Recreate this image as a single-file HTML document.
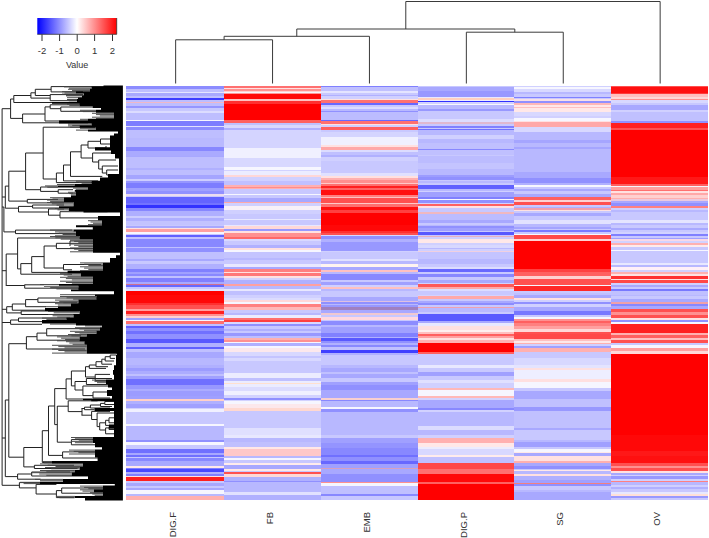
<!DOCTYPE html>
<html><head><meta charset="utf-8"><style>
html,body{margin:0;padding:0;background:#fff;}
svg{display:block;font-family:"Liberation Sans",sans-serif;}
</style></head><body>
<svg width="709" height="538" viewBox="0 0 709 538">
<rect width="709" height="538" fill="#fff"/>
<defs><linearGradient id="g" x1="0" x2="1" y1="0" y2="0"><stop offset="0" stop-color="#0000ff"/><stop offset="0.5" stop-color="#ffffff"/><stop offset="1" stop-color="#ff0000"/></linearGradient></defs>
<rect x="37.3" y="18" width="79.4" height="16.3" fill="url(#g)"/>
<path d="M37.3 34.3H116.7M116.7 18V34.3" stroke="#333" stroke-width="0.8" fill="none"/>
<path d="M42.0 34.3V41" stroke="#333" stroke-width="1"/>
<text x="42.0" y="54" text-anchor="middle" font-size="9.5" fill="#333">-2</text>
<path d="M59.6 34.3V41" stroke="#333" stroke-width="1"/>
<text x="59.6" y="54" text-anchor="middle" font-size="9.5" fill="#333">-1</text>
<path d="M77.2 34.3V41" stroke="#333" stroke-width="1"/>
<text x="77.2" y="54" text-anchor="middle" font-size="9.5" fill="#333">0</text>
<path d="M94.6 34.3V41" stroke="#333" stroke-width="1"/>
<text x="94.6" y="54" text-anchor="middle" font-size="9.5" fill="#333">1</text>
<path d="M112.5 34.3V41" stroke="#333" stroke-width="1"/>
<text x="112.5" y="54" text-anchor="middle" font-size="9.5" fill="#333">2</text>
<text x="77.2" y="67.5" text-anchor="middle" font-size="9" fill="#333">Value</text>
<g shape-rendering="crispEdges">
<rect x="126.40" y="85.60" width="97.50" height="3.00" fill="#8c8cff"/>
<rect x="126.40" y="88.60" width="97.50" height="3.30" fill="#bebeff"/>
<rect x="126.40" y="91.90" width="97.50" height="1.30" fill="#e4e4ff"/>
<rect x="126.40" y="93.20" width="97.50" height="2.60" fill="#a8a8ff"/>
<rect x="126.40" y="95.80" width="97.50" height="1.90" fill="#bebeff"/>
<rect x="126.40" y="97.70" width="97.50" height="2.60" fill="#3c3cff"/>
<rect x="126.40" y="100.30" width="97.50" height="1.30" fill="#bebeff"/>
<rect x="126.40" y="101.60" width="97.50" height="1.60" fill="#f0b8c8"/>
<rect x="126.40" y="103.20" width="97.50" height="2.30" fill="#bebeff"/>
<rect x="126.40" y="105.50" width="97.50" height="2.00" fill="#9696ff"/>
<rect x="126.40" y="107.50" width="97.50" height="3.90" fill="#c8c8ff"/>
<rect x="126.40" y="111.40" width="97.50" height="1.90" fill="#dcdcff"/>
<rect x="126.40" y="113.30" width="97.50" height="6.30" fill="#bebeff"/>
<rect x="126.40" y="119.60" width="97.50" height="1.40" fill="#f6f6ff"/>
<rect x="126.40" y="121.00" width="97.50" height="5.30" fill="#7d7dff"/>
<rect x="126.40" y="126.30" width="97.50" height="1.10" fill="#e1e1ff"/>
<rect x="126.40" y="127.40" width="97.50" height="2.20" fill="#8c8cff"/>
<rect x="126.40" y="129.60" width="97.50" height="8.40" fill="#bebeff"/>
<rect x="126.40" y="138.00" width="97.50" height="9.00" fill="#b9b9ff"/>
<rect x="126.40" y="147.00" width="97.50" height="4.00" fill="#8787ff"/>
<rect x="126.40" y="151.00" width="97.50" height="5.00" fill="#aaaaff"/>
<rect x="126.40" y="156.00" width="97.50" height="1.30" fill="#a8a8ff"/>
<rect x="126.40" y="157.30" width="97.50" height="10.40" fill="#bebeff"/>
<rect x="126.40" y="167.70" width="97.50" height="2.60" fill="#b0b0ff"/>
<rect x="126.40" y="170.30" width="97.50" height="4.70" fill="#bebeff"/>
<rect x="126.40" y="175.00" width="97.50" height="4.40" fill="#a5a5ff"/>
<rect x="126.40" y="179.40" width="97.50" height="2.00" fill="#cdcdff"/>
<rect x="126.40" y="181.40" width="97.50" height="1.90" fill="#9696ff"/>
<rect x="126.40" y="183.30" width="97.50" height="4.60" fill="#7d7dff"/>
<rect x="126.40" y="187.90" width="97.50" height="2.60" fill="#a0a0ff"/>
<rect x="126.40" y="190.50" width="97.50" height="3.20" fill="#9191ff"/>
<rect x="126.40" y="193.70" width="97.50" height="2.00" fill="#ecdcf0"/>
<rect x="126.40" y="195.70" width="97.50" height="1.30" fill="#c8c8ff"/>
<rect x="126.40" y="197.00" width="97.50" height="5.80" fill="#6464ff"/>
<rect x="126.40" y="202.80" width="97.50" height="2.60" fill="#7373ff"/>
<rect x="126.40" y="205.40" width="97.50" height="2.60" fill="#3232ff"/>
<rect x="126.40" y="208.00" width="97.50" height="2.60" fill="#8787ff"/>
<rect x="126.40" y="210.60" width="97.50" height="5.20" fill="#afafff"/>
<rect x="126.40" y="215.80" width="97.50" height="2.00" fill="#cdcdff"/>
<rect x="126.40" y="217.80" width="97.50" height="3.20" fill="#afafff"/>
<rect x="126.40" y="221.00" width="97.50" height="4.00" fill="#c3c3ff"/>
<rect x="126.40" y="225.00" width="97.50" height="1.30" fill="#c8c8ff"/>
<rect x="126.40" y="226.30" width="97.50" height="1.30" fill="#a8a8ff"/>
<rect x="126.40" y="227.60" width="97.50" height="1.30" fill="#ffe1e1"/>
<rect x="126.40" y="228.90" width="97.50" height="3.30" fill="#ffa0a0"/>
<rect x="126.40" y="232.20" width="97.50" height="1.30" fill="#f6f6ff"/>
<rect x="126.40" y="233.50" width="97.50" height="1.90" fill="#c8c8ff"/>
<rect x="126.40" y="235.40" width="97.50" height="2.00" fill="#6060ff"/>
<rect x="126.40" y="237.40" width="97.50" height="1.90" fill="#c0c0ff"/>
<rect x="126.40" y="239.30" width="97.50" height="7.20" fill="#8888ff"/>
<rect x="126.40" y="246.50" width="97.50" height="1.30" fill="#c0c0ff"/>
<rect x="126.40" y="247.80" width="97.50" height="4.50" fill="#9090ff"/>
<rect x="126.40" y="252.30" width="97.50" height="6.50" fill="#c0c0ff"/>
<rect x="126.40" y="258.80" width="97.50" height="2.00" fill="#a8a8ff"/>
<rect x="126.40" y="260.80" width="97.50" height="3.20" fill="#c8c8ff"/>
<rect x="126.40" y="264.00" width="97.50" height="5.20" fill="#b0b0ff"/>
<rect x="126.40" y="269.20" width="97.50" height="2.60" fill="#8080ff"/>
<rect x="126.40" y="271.80" width="97.50" height="2.60" fill="#a0a0ff"/>
<rect x="126.40" y="274.40" width="97.50" height="2.00" fill="#8888ff"/>
<rect x="126.40" y="276.40" width="97.50" height="1.90" fill="#c0c0ff"/>
<rect x="126.40" y="278.30" width="97.50" height="3.90" fill="#8080ff"/>
<rect x="126.40" y="282.20" width="97.50" height="1.30" fill="#a8a8ff"/>
<rect x="126.40" y="283.50" width="97.50" height="1.30" fill="#d07090"/>
<rect x="126.40" y="284.80" width="97.50" height="2.00" fill="#6868ff"/>
<rect x="126.40" y="286.80" width="97.50" height="2.60" fill="#c8c8ff"/>
<rect x="126.40" y="289.40" width="97.50" height="2.00" fill="#e1e1ff"/>
<rect x="126.40" y="291.40" width="97.50" height="3.60" fill="#ff0000"/>
<rect x="126.40" y="295.00" width="97.50" height="7.80" fill="#ff0808"/>
<rect x="126.40" y="302.80" width="97.50" height="2.60" fill="#ff3030"/>
<rect x="126.40" y="305.40" width="97.50" height="3.90" fill="#ff5050"/>
<rect x="126.40" y="309.30" width="97.50" height="2.00" fill="#ffa0a0"/>
<rect x="126.40" y="311.30" width="97.50" height="2.60" fill="#ff2020"/>
<rect x="126.40" y="313.90" width="97.50" height="1.90" fill="#ff9090"/>
<rect x="126.40" y="315.80" width="97.50" height="2.00" fill="#ffd0d0"/>
<rect x="126.40" y="317.80" width="97.50" height="1.90" fill="#a0a0ff"/>
<rect x="126.40" y="319.70" width="97.50" height="1.30" fill="#f6f6ff"/>
<rect x="126.40" y="321.00" width="97.50" height="3.30" fill="#ff7070"/>
<rect x="126.40" y="324.30" width="97.50" height="1.90" fill="#c0c0ff"/>
<rect x="126.40" y="326.20" width="97.50" height="2.00" fill="#6060ff"/>
<rect x="126.40" y="328.20" width="97.50" height="3.20" fill="#9090ff"/>
<rect x="126.40" y="331.40" width="97.50" height="2.60" fill="#7070ff"/>
<rect x="126.40" y="334.00" width="97.50" height="5.20" fill="#9090ff"/>
<rect x="126.40" y="339.20" width="97.50" height="3.30" fill="#5858ff"/>
<rect x="126.40" y="342.50" width="97.50" height="4.50" fill="#b0b0ff"/>
<rect x="126.40" y="347.00" width="97.50" height="2.00" fill="#6060ff"/>
<rect x="126.40" y="349.00" width="97.50" height="3.20" fill="#c0c0ff"/>
<rect x="126.40" y="352.20" width="97.50" height="5.30" fill="#a8a8ff"/>
<rect x="126.40" y="357.50" width="97.50" height="7.50" fill="#b8b8ff"/>
<rect x="126.40" y="365.00" width="97.50" height="2.60" fill="#b0b0ff"/>
<rect x="126.40" y="367.60" width="97.50" height="3.30" fill="#9c9cff"/>
<rect x="126.40" y="370.90" width="97.50" height="3.20" fill="#acacff"/>
<rect x="126.40" y="374.10" width="97.50" height="2.00" fill="#c0c0ff"/>
<rect x="126.40" y="376.10" width="97.50" height="3.20" fill="#a0a0ff"/>
<rect x="126.40" y="379.30" width="97.50" height="5.20" fill="#7070ff"/>
<rect x="126.40" y="384.50" width="97.50" height="4.60" fill="#9898ff"/>
<rect x="126.40" y="389.10" width="97.50" height="1.90" fill="#acacff"/>
<rect x="126.40" y="391.00" width="97.50" height="5.20" fill="#9c9cff"/>
<rect x="126.40" y="396.20" width="97.50" height="2.60" fill="#a0a0ff"/>
<rect x="126.40" y="398.80" width="97.50" height="2.00" fill="#ffd0c8"/>
<rect x="126.40" y="400.80" width="97.50" height="3.20" fill="#b0b0ff"/>
<rect x="126.40" y="404.00" width="97.50" height="3.90" fill="#a0a0ff"/>
<rect x="126.40" y="407.90" width="97.50" height="1.30" fill="#d0d0ff"/>
<rect x="126.40" y="409.20" width="97.50" height="2.60" fill="#f0f0ff"/>
<rect x="126.40" y="411.80" width="97.50" height="12.40" fill="#c8c8ff"/>
<rect x="126.40" y="424.20" width="97.50" height="2.00" fill="#f6f6ff"/>
<rect x="126.40" y="426.20" width="97.50" height="8.80" fill="#b8b8ff"/>
<rect x="126.40" y="435.00" width="97.50" height="4.60" fill="#b8b8ff"/>
<rect x="126.40" y="439.60" width="97.50" height="2.60" fill="#9090ff"/>
<rect x="126.40" y="442.20" width="97.50" height="2.60" fill="#f6f6ff"/>
<rect x="126.40" y="444.80" width="97.50" height="3.90" fill="#c8c8ff"/>
<rect x="126.40" y="448.70" width="97.50" height="3.90" fill="#7070ff"/>
<rect x="126.40" y="452.60" width="97.50" height="1.90" fill="#a8a8ff"/>
<rect x="126.40" y="454.50" width="97.50" height="2.00" fill="#7070ff"/>
<rect x="126.40" y="456.50" width="97.50" height="1.30" fill="#c8c8ff"/>
<rect x="126.40" y="457.80" width="97.50" height="3.20" fill="#8888ff"/>
<rect x="126.40" y="461.00" width="97.50" height="5.20" fill="#a8a8ff"/>
<rect x="126.40" y="466.20" width="97.50" height="1.30" fill="#ffe8e8"/>
<rect x="126.40" y="467.50" width="97.50" height="1.30" fill="#8080ff"/>
<rect x="126.40" y="468.80" width="97.50" height="3.30" fill="#4848ff"/>
<rect x="126.40" y="472.10" width="97.50" height="1.90" fill="#b0b0ff"/>
<rect x="126.40" y="474.00" width="97.50" height="2.00" fill="#8080ff"/>
<rect x="126.40" y="476.00" width="97.50" height="1.30" fill="#ffe1e1"/>
<rect x="126.40" y="477.30" width="97.50" height="3.90" fill="#ff2020"/>
<rect x="126.40" y="481.20" width="97.50" height="1.90" fill="#c8c8ff"/>
<rect x="126.40" y="483.10" width="97.50" height="2.60" fill="#a8a8ff"/>
<rect x="126.40" y="485.70" width="97.50" height="2.00" fill="#c8c8ff"/>
<rect x="126.40" y="487.70" width="97.50" height="1.90" fill="#a8a8ff"/>
<rect x="126.40" y="489.60" width="97.50" height="3.90" fill="#f6f6ff"/>
<rect x="126.40" y="493.50" width="97.50" height="2.70" fill="#b8b8ff"/>
<rect x="126.40" y="496.20" width="97.50" height="4.10" fill="#ffb0b0"/>
<rect x="223.90" y="85.60" width="96.90" height="2.30" fill="#ff7070"/>
<rect x="223.90" y="87.90" width="96.90" height="1.00" fill="#ffe1e1"/>
<rect x="223.90" y="88.90" width="96.90" height="2.00" fill="#ff9191"/>
<rect x="223.90" y="90.90" width="96.90" height="1.30" fill="#ffd2d2"/>
<rect x="223.90" y="92.20" width="96.90" height="0.90" fill="#f6f6ff"/>
<rect x="223.90" y="93.10" width="96.90" height="1.00" fill="#ff9696"/>
<rect x="223.90" y="94.10" width="96.90" height="5.20" fill="#ff0808"/>
<rect x="223.90" y="99.30" width="96.90" height="1.30" fill="#ffc0c0"/>
<rect x="223.90" y="100.60" width="96.90" height="3.30" fill="#ff3030"/>
<rect x="223.90" y="103.90" width="96.90" height="16.20" fill="#ff0000"/>
<rect x="223.90" y="120.10" width="96.90" height="2.60" fill="#ff6060"/>
<rect x="223.90" y="122.70" width="96.90" height="2.60" fill="#c0c0ff"/>
<rect x="223.90" y="125.30" width="96.90" height="2.70" fill="#d8d8ff"/>
<rect x="223.90" y="128.00" width="96.90" height="1.90" fill="#b0b0ff"/>
<rect x="223.90" y="129.90" width="96.90" height="17.60" fill="#d4d4ff"/>
<rect x="223.90" y="147.50" width="96.90" height="7.50" fill="#f0f0ff"/>
<rect x="223.90" y="155.00" width="96.90" height="2.60" fill="#f0f0ff"/>
<rect x="223.90" y="157.60" width="96.90" height="9.80" fill="#d8d8ff"/>
<rect x="223.90" y="167.40" width="96.90" height="2.60" fill="#f6f6ff"/>
<rect x="223.90" y="170.00" width="96.90" height="1.30" fill="#d2d2ff"/>
<rect x="223.90" y="171.30" width="96.90" height="3.90" fill="#ececff"/>
<rect x="223.90" y="175.20" width="96.90" height="1.70" fill="#ffd7d7"/>
<rect x="223.90" y="176.90" width="96.90" height="4.10" fill="#d0d0ff"/>
<rect x="223.90" y="181.00" width="96.90" height="3.90" fill="#c0c0ff"/>
<rect x="223.90" y="184.90" width="96.90" height="1.60" fill="#ffb0b0"/>
<rect x="223.90" y="186.50" width="96.90" height="1.50" fill="#ff8c8c"/>
<rect x="223.90" y="188.00" width="96.90" height="1.10" fill="#ffb0b0"/>
<rect x="223.90" y="189.10" width="96.90" height="4.90" fill="#c8c8ff"/>
<rect x="223.90" y="194.00" width="96.90" height="1.30" fill="#f6f6ff"/>
<rect x="223.90" y="195.30" width="96.90" height="2.60" fill="#c8c8ff"/>
<rect x="223.90" y="197.90" width="96.90" height="3.90" fill="#a8a8ff"/>
<rect x="223.90" y="201.80" width="96.90" height="1.60" fill="#ffa8a8"/>
<rect x="223.90" y="203.40" width="96.90" height="2.30" fill="#d0d0ff"/>
<rect x="223.90" y="205.70" width="96.90" height="3.90" fill="#f8f0f8"/>
<rect x="223.90" y="209.60" width="96.90" height="3.90" fill="#d0d0ff"/>
<rect x="223.90" y="213.50" width="96.90" height="5.30" fill="#c8c8ff"/>
<rect x="223.90" y="218.80" width="96.90" height="1.20" fill="#e8e8ff"/>
<rect x="223.90" y="220.00" width="96.90" height="5.00" fill="#c8c8ff"/>
<rect x="223.90" y="225.00" width="96.90" height="1.30" fill="#e8e8ff"/>
<rect x="223.90" y="226.30" width="96.90" height="2.60" fill="#ffd8d8"/>
<rect x="223.90" y="228.90" width="96.90" height="2.00" fill="#9898ff"/>
<rect x="223.90" y="230.90" width="96.90" height="1.90" fill="#ffe1e1"/>
<rect x="223.90" y="232.80" width="96.90" height="3.90" fill="#ff9090"/>
<rect x="223.90" y="236.70" width="96.90" height="2.60" fill="#ff6868"/>
<rect x="223.90" y="239.30" width="96.90" height="2.00" fill="#d8d8ff"/>
<rect x="223.90" y="241.30" width="96.90" height="3.20" fill="#c8c8ff"/>
<rect x="223.90" y="244.50" width="96.90" height="3.30" fill="#b0b0ff"/>
<rect x="223.90" y="247.80" width="96.90" height="1.90" fill="#ffe0e0"/>
<rect x="223.90" y="249.70" width="96.90" height="2.60" fill="#f6f6ff"/>
<rect x="223.90" y="252.30" width="96.90" height="5.70" fill="#c4c4ff"/>
<rect x="223.90" y="258.00" width="96.90" height="2.00" fill="#b8b8ff"/>
<rect x="223.90" y="260.00" width="96.90" height="4.00" fill="#c8c8ff"/>
<rect x="223.90" y="264.00" width="96.90" height="2.60" fill="#e8e8ff"/>
<rect x="223.90" y="266.60" width="96.90" height="2.60" fill="#a8a8ff"/>
<rect x="223.90" y="269.20" width="96.90" height="2.60" fill="#ff8080"/>
<rect x="223.90" y="271.80" width="96.90" height="1.30" fill="#ffe1e1"/>
<rect x="223.90" y="273.10" width="96.90" height="2.60" fill="#ff7878"/>
<rect x="223.90" y="275.70" width="96.90" height="2.00" fill="#ffe1e1"/>
<rect x="223.90" y="277.70" width="96.90" height="1.90" fill="#d2d2ff"/>
<rect x="223.90" y="279.60" width="96.90" height="3.90" fill="#b0b0ff"/>
<rect x="223.90" y="283.50" width="96.90" height="2.60" fill="#ffa0a0"/>
<rect x="223.90" y="286.10" width="96.90" height="2.60" fill="#b8b8ff"/>
<rect x="223.90" y="288.70" width="96.90" height="2.70" fill="#e8e8ff"/>
<rect x="223.90" y="291.40" width="96.90" height="3.60" fill="#c0c0ff"/>
<rect x="223.90" y="295.00" width="96.90" height="2.60" fill="#d0d0ff"/>
<rect x="223.90" y="297.60" width="96.90" height="2.60" fill="#dcdcff"/>
<rect x="223.90" y="300.20" width="96.90" height="2.00" fill="#ffd8d8"/>
<rect x="223.90" y="302.20" width="96.90" height="1.90" fill="#f6f6ff"/>
<rect x="223.90" y="304.10" width="96.90" height="3.30" fill="#ff8080"/>
<rect x="223.90" y="307.40" width="96.90" height="2.60" fill="#ffb8b8"/>
<rect x="223.90" y="310.00" width="96.90" height="3.20" fill="#c8c8ff"/>
<rect x="223.90" y="313.20" width="96.90" height="2.00" fill="#b8b8ff"/>
<rect x="223.90" y="315.20" width="96.90" height="2.60" fill="#ececff"/>
<rect x="223.90" y="317.80" width="96.90" height="1.90" fill="#ff7070"/>
<rect x="223.90" y="319.70" width="96.90" height="2.00" fill="#ff4040"/>
<rect x="223.90" y="321.70" width="96.90" height="1.90" fill="#d8d8ff"/>
<rect x="223.90" y="323.60" width="96.90" height="2.60" fill="#9090ff"/>
<rect x="223.90" y="326.20" width="96.90" height="2.60" fill="#c8c8ff"/>
<rect x="223.90" y="328.80" width="96.90" height="2.20" fill="#b0b0ff"/>
<rect x="223.90" y="331.00" width="96.90" height="2.00" fill="#c8c8ff"/>
<rect x="223.90" y="333.00" width="96.90" height="2.50" fill="#9898ff"/>
<rect x="223.90" y="335.50" width="96.90" height="2.40" fill="#bebeff"/>
<rect x="223.90" y="337.90" width="96.90" height="2.00" fill="#ffb0b0"/>
<rect x="223.90" y="339.90" width="96.90" height="1.90" fill="#ff9090"/>
<rect x="223.90" y="341.80" width="96.90" height="1.30" fill="#f6f6ff"/>
<rect x="223.90" y="343.10" width="96.90" height="3.30" fill="#b0b0ff"/>
<rect x="223.90" y="346.40" width="96.90" height="1.30" fill="#f6f6ff"/>
<rect x="223.90" y="347.70" width="96.90" height="4.50" fill="#fce8ec"/>
<rect x="223.90" y="352.20" width="96.90" height="3.80" fill="#d8d8ff"/>
<rect x="223.90" y="356.00" width="96.90" height="2.00" fill="#c4c4ff"/>
<rect x="223.90" y="358.00" width="96.90" height="3.00" fill="#d8d8ff"/>
<rect x="223.90" y="361.00" width="96.90" height="4.00" fill="#c8c8ff"/>
<rect x="223.90" y="365.00" width="96.90" height="7.80" fill="#c8c8ff"/>
<rect x="223.90" y="372.80" width="96.90" height="5.20" fill="#ececff"/>
<rect x="223.90" y="378.00" width="96.90" height="2.60" fill="#c0c0ff"/>
<rect x="223.90" y="380.60" width="96.90" height="2.00" fill="#ececff"/>
<rect x="223.90" y="382.60" width="96.90" height="1.30" fill="#ffe0d0"/>
<rect x="223.90" y="383.90" width="96.90" height="3.20" fill="#ececff"/>
<rect x="223.90" y="387.10" width="96.90" height="3.90" fill="#dcdcff"/>
<rect x="223.90" y="391.00" width="96.90" height="3.90" fill="#f0f0ff"/>
<rect x="223.90" y="394.90" width="96.90" height="2.60" fill="#d2d2ff"/>
<rect x="223.90" y="397.50" width="96.90" height="2.00" fill="#9090ff"/>
<rect x="223.90" y="399.50" width="96.90" height="1.90" fill="#d2d2ff"/>
<rect x="223.90" y="401.40" width="96.90" height="2.60" fill="#f6f6ff"/>
<rect x="223.90" y="404.00" width="96.90" height="3.90" fill="#fce8ec"/>
<rect x="223.90" y="407.90" width="96.90" height="2.60" fill="#ffd8d0"/>
<rect x="223.90" y="410.50" width="96.90" height="17.00" fill="#c8c8ff"/>
<rect x="223.90" y="427.50" width="96.90" height="7.50" fill="#e0e0ff"/>
<rect x="223.90" y="435.00" width="96.90" height="2.60" fill="#e8e8ff"/>
<rect x="223.90" y="437.60" width="96.90" height="3.90" fill="#b8b8ff"/>
<rect x="223.90" y="441.50" width="96.90" height="5.90" fill="#c0c0ff"/>
<rect x="223.90" y="447.40" width="96.90" height="1.90" fill="#ffe8e8"/>
<rect x="223.90" y="449.30" width="96.90" height="6.50" fill="#ffc8c8"/>
<rect x="223.90" y="455.80" width="96.90" height="2.60" fill="#b8b8ff"/>
<rect x="223.90" y="458.40" width="96.90" height="2.00" fill="#f6f6ff"/>
<rect x="223.90" y="460.40" width="96.90" height="2.60" fill="#c8c8ff"/>
<rect x="223.90" y="463.00" width="96.90" height="1.90" fill="#ffecec"/>
<rect x="223.90" y="464.90" width="96.90" height="3.90" fill="#a8a8ff"/>
<rect x="223.90" y="468.80" width="96.90" height="2.00" fill="#ffe8e8"/>
<rect x="223.90" y="470.80" width="96.90" height="1.30" fill="#c8c8ff"/>
<rect x="223.90" y="472.10" width="96.90" height="1.90" fill="#ff5050"/>
<rect x="223.90" y="474.00" width="96.90" height="2.60" fill="#ffd8d8"/>
<rect x="223.90" y="476.60" width="96.90" height="3.90" fill="#b0b0ff"/>
<rect x="223.90" y="480.50" width="96.90" height="1.30" fill="#9090ff"/>
<rect x="223.90" y="481.80" width="96.90" height="10.40" fill="#b8b8ff"/>
<rect x="223.90" y="492.20" width="96.90" height="2.60" fill="#e1e1ff"/>
<rect x="223.90" y="494.80" width="96.90" height="5.50" fill="#b0b0ff"/>
<rect x="320.80" y="85.60" width="96.90" height="1.70" fill="#8080ff"/>
<rect x="320.80" y="87.30" width="96.90" height="3.90" fill="#c0c0ff"/>
<rect x="320.80" y="91.20" width="96.90" height="2.00" fill="#e4e4ff"/>
<rect x="320.80" y="93.20" width="96.90" height="1.30" fill="#c8c8ff"/>
<rect x="320.80" y="94.50" width="96.90" height="1.30" fill="#b0b0ff"/>
<rect x="320.80" y="95.80" width="96.90" height="3.20" fill="#d0d0ff"/>
<rect x="320.80" y="99.00" width="96.90" height="1.30" fill="#ffe1e1"/>
<rect x="320.80" y="100.30" width="96.90" height="2.60" fill="#ff7070"/>
<rect x="320.80" y="102.90" width="96.90" height="2.00" fill="#6868ff"/>
<rect x="320.80" y="104.90" width="96.90" height="1.90" fill="#c8c8ff"/>
<rect x="320.80" y="106.80" width="96.90" height="2.00" fill="#dcdcff"/>
<rect x="320.80" y="108.80" width="96.90" height="1.90" fill="#b8b8ff"/>
<rect x="320.80" y="110.70" width="96.90" height="1.30" fill="#9090ff"/>
<rect x="320.80" y="112.00" width="96.90" height="7.80" fill="#bcbcff"/>
<rect x="320.80" y="119.80" width="96.90" height="1.30" fill="#6868ff"/>
<rect x="320.80" y="121.10" width="96.90" height="2.60" fill="#ff7070"/>
<rect x="320.80" y="123.70" width="96.90" height="1.30" fill="#ffe1e1"/>
<rect x="320.80" y="125.00" width="96.90" height="2.00" fill="#d0d0ff"/>
<rect x="320.80" y="127.00" width="96.90" height="2.60" fill="#ff6060"/>
<rect x="320.80" y="129.60" width="96.90" height="1.90" fill="#c8c8ff"/>
<rect x="320.80" y="131.50" width="96.90" height="5.20" fill="#d4d4ff"/>
<rect x="320.80" y="136.70" width="96.90" height="7.80" fill="#f0f0ff"/>
<rect x="320.80" y="144.50" width="96.90" height="2.00" fill="#ffe1e1"/>
<rect x="320.80" y="146.50" width="96.90" height="3.30" fill="#ffa8a8"/>
<rect x="320.80" y="149.80" width="96.90" height="2.60" fill="#dcdcff"/>
<rect x="320.80" y="152.40" width="96.90" height="2.60" fill="#c0c0ff"/>
<rect x="320.80" y="155.00" width="96.90" height="2.00" fill="#b0b0ff"/>
<rect x="320.80" y="157.00" width="96.90" height="3.90" fill="#d0d0ff"/>
<rect x="320.80" y="160.90" width="96.90" height="12.30" fill="#c8c8ff"/>
<rect x="320.80" y="173.20" width="96.90" height="2.60" fill="#e0e0ff"/>
<rect x="320.80" y="175.80" width="96.90" height="2.00" fill="#ffe0e0"/>
<rect x="320.80" y="177.80" width="96.90" height="2.60" fill="#ffb0b0"/>
<rect x="320.80" y="180.40" width="96.90" height="2.60" fill="#ff9090"/>
<rect x="320.80" y="183.00" width="96.90" height="1.30" fill="#ffc8c8"/>
<rect x="320.80" y="184.30" width="96.90" height="1.90" fill="#ff7070"/>
<rect x="320.80" y="186.20" width="96.90" height="2.00" fill="#ff2020"/>
<rect x="320.80" y="188.20" width="96.90" height="1.30" fill="#ff6464"/>
<rect x="320.80" y="189.50" width="96.90" height="5.80" fill="#ff1010"/>
<rect x="320.80" y="195.30" width="96.90" height="1.30" fill="#ff8080"/>
<rect x="320.80" y="196.60" width="96.90" height="1.30" fill="#ffc0c0"/>
<rect x="320.80" y="197.90" width="96.90" height="5.20" fill="#ff5050"/>
<rect x="320.80" y="203.10" width="96.90" height="1.30" fill="#ffc8c8"/>
<rect x="320.80" y="204.40" width="96.90" height="2.60" fill="#ff7070"/>
<rect x="320.80" y="207.00" width="96.90" height="2.60" fill="#ff1010"/>
<rect x="320.80" y="209.60" width="96.90" height="3.30" fill="#ff4040"/>
<rect x="320.80" y="212.90" width="96.90" height="12.10" fill="#ff0000"/>
<rect x="320.80" y="225.00" width="96.90" height="5.90" fill="#ff0808"/>
<rect x="320.80" y="230.90" width="96.90" height="1.90" fill="#ff3030"/>
<rect x="320.80" y="232.80" width="96.90" height="2.00" fill="#ff5050"/>
<rect x="320.80" y="234.80" width="96.90" height="1.30" fill="#d8d8ff"/>
<rect x="320.80" y="236.10" width="96.90" height="3.20" fill="#9090ff"/>
<rect x="320.80" y="239.30" width="96.90" height="2.60" fill="#b0b0ff"/>
<rect x="320.80" y="241.90" width="96.90" height="9.10" fill="#9898ff"/>
<rect x="320.80" y="251.00" width="96.90" height="1.30" fill="#d0d0ff"/>
<rect x="320.80" y="252.30" width="96.90" height="6.50" fill="#c8c8ff"/>
<rect x="320.80" y="258.80" width="96.90" height="2.00" fill="#e0e0ff"/>
<rect x="320.80" y="260.80" width="96.90" height="3.20" fill="#b8b8ff"/>
<rect x="320.80" y="264.00" width="96.90" height="3.30" fill="#fff4f0"/>
<rect x="320.80" y="267.30" width="96.90" height="2.60" fill="#a8a8ff"/>
<rect x="320.80" y="269.90" width="96.90" height="1.90" fill="#ffc0c0"/>
<rect x="320.80" y="271.80" width="96.90" height="2.60" fill="#b8b8ff"/>
<rect x="320.80" y="274.40" width="96.90" height="5.20" fill="#8888ff"/>
<rect x="320.80" y="279.60" width="96.90" height="2.60" fill="#c8c8ff"/>
<rect x="320.80" y="282.20" width="96.90" height="2.60" fill="#a0a0ff"/>
<rect x="320.80" y="284.80" width="96.90" height="2.00" fill="#d0d0ff"/>
<rect x="320.80" y="286.80" width="96.90" height="2.00" fill="#ffc0c0"/>
<rect x="320.80" y="288.80" width="96.90" height="2.60" fill="#b8b8ff"/>
<rect x="320.80" y="291.40" width="96.90" height="3.60" fill="#c8c8ff"/>
<rect x="320.80" y="295.00" width="96.90" height="2.00" fill="#c8c8ff"/>
<rect x="320.80" y="297.00" width="96.90" height="3.90" fill="#a8a8ff"/>
<rect x="320.80" y="300.90" width="96.90" height="1.30" fill="#e0c0e0"/>
<rect x="320.80" y="302.20" width="96.90" height="1.30" fill="#9090ff"/>
<rect x="320.80" y="303.50" width="96.90" height="1.90" fill="#b8b8ff"/>
<rect x="320.80" y="305.40" width="96.90" height="2.00" fill="#9898ff"/>
<rect x="320.80" y="307.40" width="96.90" height="2.60" fill="#a080c0"/>
<rect x="320.80" y="310.00" width="96.90" height="3.20" fill="#a8a8ff"/>
<rect x="320.80" y="313.20" width="96.90" height="2.00" fill="#f0c8d0"/>
<rect x="320.80" y="315.20" width="96.90" height="1.90" fill="#c8c8ff"/>
<rect x="320.80" y="317.10" width="96.90" height="2.60" fill="#ffd8e0"/>
<rect x="320.80" y="319.70" width="96.90" height="1.30" fill="#c8c8ff"/>
<rect x="320.80" y="321.00" width="96.90" height="3.90" fill="#8c8cff"/>
<rect x="320.80" y="324.90" width="96.90" height="2.00" fill="#b8b8ff"/>
<rect x="320.80" y="326.90" width="96.90" height="5.80" fill="#a0a0ff"/>
<rect x="320.80" y="332.70" width="96.90" height="3.90" fill="#8080ff"/>
<rect x="320.80" y="336.60" width="96.90" height="1.30" fill="#b0b0ff"/>
<rect x="320.80" y="337.90" width="96.90" height="2.60" fill="#5858ff"/>
<rect x="320.80" y="340.50" width="96.90" height="2.00" fill="#9090ff"/>
<rect x="320.80" y="342.50" width="96.90" height="2.60" fill="#b0b0ff"/>
<rect x="320.80" y="345.10" width="96.90" height="1.90" fill="#8888ff"/>
<rect x="320.80" y="347.00" width="96.90" height="2.60" fill="#c0c0ff"/>
<rect x="320.80" y="349.60" width="96.90" height="3.30" fill="#4040ff"/>
<rect x="320.80" y="352.90" width="96.90" height="1.90" fill="#b0b0ff"/>
<rect x="320.80" y="354.80" width="96.90" height="10.20" fill="#c8c8ff"/>
<rect x="320.80" y="365.00" width="96.90" height="2.60" fill="#b8b8ff"/>
<rect x="320.80" y="367.60" width="96.90" height="3.90" fill="#a8a8ff"/>
<rect x="320.80" y="371.50" width="96.90" height="2.60" fill="#c0c0ff"/>
<rect x="320.80" y="374.10" width="96.90" height="3.90" fill="#a8a8ff"/>
<rect x="320.80" y="378.00" width="96.90" height="3.90" fill="#c8c8ff"/>
<rect x="320.80" y="381.90" width="96.90" height="3.30" fill="#a0a0ff"/>
<rect x="320.80" y="385.20" width="96.90" height="4.50" fill="#9090ff"/>
<rect x="320.80" y="389.70" width="96.90" height="7.80" fill="#a8a8ff"/>
<rect x="320.80" y="397.50" width="96.90" height="2.00" fill="#f8d0d0"/>
<rect x="320.80" y="399.50" width="96.90" height="1.30" fill="#8888ff"/>
<rect x="320.80" y="400.80" width="96.90" height="5.80" fill="#b8b8ff"/>
<rect x="320.80" y="406.60" width="96.90" height="2.00" fill="#f6f6ff"/>
<rect x="320.80" y="408.60" width="96.90" height="3.20" fill="#9090ff"/>
<rect x="320.80" y="411.80" width="96.90" height="23.20" fill="#b8b8ff"/>
<rect x="320.80" y="435.00" width="96.90" height="2.60" fill="#c8c8ff"/>
<rect x="320.80" y="437.60" width="96.90" height="5.20" fill="#a0a0ff"/>
<rect x="320.80" y="442.80" width="96.90" height="5.20" fill="#9494ff"/>
<rect x="320.80" y="448.00" width="96.90" height="6.50" fill="#8888ff"/>
<rect x="320.80" y="454.50" width="96.90" height="2.60" fill="#7070ff"/>
<rect x="320.80" y="457.10" width="96.90" height="3.90" fill="#9090ff"/>
<rect x="320.80" y="461.00" width="96.90" height="2.60" fill="#6868ff"/>
<rect x="320.80" y="463.60" width="96.90" height="3.90" fill="#a0a0ff"/>
<rect x="320.80" y="467.50" width="96.90" height="1.30" fill="#d8a0c0"/>
<rect x="320.80" y="468.80" width="96.90" height="5.20" fill="#a8a8ff"/>
<rect x="320.80" y="474.00" width="96.90" height="7.80" fill="#9090ff"/>
<rect x="320.80" y="481.80" width="96.90" height="1.30" fill="#ff9090"/>
<rect x="320.80" y="483.10" width="96.90" height="3.30" fill="#f6f6ff"/>
<rect x="320.80" y="486.40" width="96.90" height="7.10" fill="#c0c0ff"/>
<rect x="320.80" y="493.50" width="96.90" height="2.70" fill="#8888ff"/>
<rect x="320.80" y="496.20" width="96.90" height="4.10" fill="#c8c8ff"/>
<rect x="417.70" y="85.60" width="96.60" height="1.70" fill="#c8c8ff"/>
<rect x="417.70" y="87.30" width="96.60" height="3.90" fill="#a8a8ff"/>
<rect x="417.70" y="91.20" width="96.60" height="5.80" fill="#9898ff"/>
<rect x="417.70" y="97.00" width="96.60" height="1.40" fill="#e8e8ff"/>
<rect x="417.70" y="98.40" width="96.60" height="1.30" fill="#ffd0c0"/>
<rect x="417.70" y="99.70" width="96.60" height="1.30" fill="#ececff"/>
<rect x="417.70" y="101.00" width="96.60" height="1.30" fill="#3030ff"/>
<rect x="417.70" y="102.30" width="96.60" height="1.30" fill="#d2d2ff"/>
<rect x="417.70" y="103.60" width="96.60" height="1.30" fill="#f6f6ff"/>
<rect x="417.70" y="104.90" width="96.60" height="4.50" fill="#b8b8ff"/>
<rect x="417.70" y="109.40" width="96.60" height="1.30" fill="#9898ff"/>
<rect x="417.70" y="110.70" width="96.60" height="7.80" fill="#c8c8ff"/>
<rect x="417.70" y="118.50" width="96.60" height="3.30" fill="#dcdcff"/>
<rect x="417.70" y="121.80" width="96.60" height="1.90" fill="#e0b8d0"/>
<rect x="417.70" y="123.70" width="96.60" height="2.00" fill="#c8c8ff"/>
<rect x="417.70" y="125.70" width="96.60" height="1.90" fill="#8080ff"/>
<rect x="417.70" y="127.60" width="96.60" height="1.30" fill="#c8c8ff"/>
<rect x="417.70" y="128.90" width="96.60" height="1.30" fill="#7070ff"/>
<rect x="417.70" y="130.20" width="96.60" height="5.20" fill="#b8b8ff"/>
<rect x="417.70" y="135.40" width="96.60" height="3.90" fill="#d0d0ff"/>
<rect x="417.70" y="139.30" width="96.60" height="3.90" fill="#b8b8ff"/>
<rect x="417.70" y="143.20" width="96.60" height="5.30" fill="#c0c0ff"/>
<rect x="417.70" y="148.50" width="96.60" height="1.90" fill="#8888ff"/>
<rect x="417.70" y="150.40" width="96.60" height="4.60" fill="#c0c0ff"/>
<rect x="417.70" y="155.00" width="96.60" height="1.30" fill="#c8c8ff"/>
<rect x="417.70" y="156.30" width="96.60" height="6.50" fill="#bcbcff"/>
<rect x="417.70" y="162.80" width="96.60" height="6.50" fill="#c4c4ff"/>
<rect x="417.70" y="169.30" width="96.60" height="5.20" fill="#b8b8ff"/>
<rect x="417.70" y="174.50" width="96.60" height="2.60" fill="#9c9cff"/>
<rect x="417.70" y="177.10" width="96.60" height="2.60" fill="#9090ff"/>
<rect x="417.70" y="179.70" width="96.60" height="1.30" fill="#c8c8ff"/>
<rect x="417.70" y="181.00" width="96.60" height="2.00" fill="#b8b8ff"/>
<rect x="417.70" y="183.00" width="96.60" height="1.90" fill="#c8c8ff"/>
<rect x="417.70" y="184.90" width="96.60" height="3.90" fill="#6060ff"/>
<rect x="417.70" y="188.80" width="96.60" height="2.00" fill="#b8b8ff"/>
<rect x="417.70" y="190.80" width="96.60" height="1.30" fill="#d0d0ff"/>
<rect x="417.70" y="192.10" width="96.60" height="4.50" fill="#a0a0ff"/>
<rect x="417.70" y="196.60" width="96.60" height="2.00" fill="#8080ff"/>
<rect x="417.70" y="198.60" width="96.60" height="1.30" fill="#f6f6ff"/>
<rect x="417.70" y="199.90" width="96.60" height="3.20" fill="#9090ff"/>
<rect x="417.70" y="203.10" width="96.60" height="1.30" fill="#d0d0ff"/>
<rect x="417.70" y="204.40" width="96.60" height="2.00" fill="#ff6060"/>
<rect x="417.70" y="206.40" width="96.60" height="1.30" fill="#ffe1e1"/>
<rect x="417.70" y="207.70" width="96.60" height="4.50" fill="#c8c8ff"/>
<rect x="417.70" y="212.20" width="96.60" height="2.00" fill="#f0b8c0"/>
<rect x="417.70" y="214.20" width="96.60" height="5.80" fill="#bcbcff"/>
<rect x="417.70" y="220.00" width="96.60" height="2.70" fill="#a8a8ff"/>
<rect x="417.70" y="222.70" width="96.60" height="2.30" fill="#c8c8ff"/>
<rect x="417.70" y="225.00" width="96.60" height="1.30" fill="#b8b8ff"/>
<rect x="417.70" y="226.30" width="96.60" height="2.00" fill="#9090ff"/>
<rect x="417.70" y="228.30" width="96.60" height="2.60" fill="#a0a0ff"/>
<rect x="417.70" y="230.90" width="96.60" height="1.30" fill="#c8c8ff"/>
<rect x="417.70" y="232.20" width="96.60" height="2.60" fill="#5858ff"/>
<rect x="417.70" y="234.80" width="96.60" height="1.30" fill="#c8c8ff"/>
<rect x="417.70" y="236.10" width="96.60" height="1.30" fill="#e8b0c0"/>
<rect x="417.70" y="237.40" width="96.60" height="1.30" fill="#d0d0ff"/>
<rect x="417.70" y="238.70" width="96.60" height="4.50" fill="#ffe8e8"/>
<rect x="417.70" y="243.20" width="96.60" height="1.30" fill="#d0d0ff"/>
<rect x="417.70" y="244.50" width="96.60" height="3.30" fill="#d8d8ff"/>
<rect x="417.70" y="247.80" width="96.60" height="1.30" fill="#b8b8ff"/>
<rect x="417.70" y="249.10" width="96.60" height="1.90" fill="#d0d0ff"/>
<rect x="417.70" y="251.00" width="96.60" height="1.30" fill="#f0d0e0"/>
<rect x="417.70" y="252.30" width="96.60" height="6.50" fill="#c4c4ff"/>
<rect x="417.70" y="258.80" width="96.60" height="5.20" fill="#b8b8ff"/>
<rect x="417.70" y="264.00" width="96.60" height="2.60" fill="#c8c8ff"/>
<rect x="417.70" y="266.60" width="96.60" height="2.60" fill="#dcdcff"/>
<rect x="417.70" y="269.20" width="96.60" height="2.60" fill="#6868ff"/>
<rect x="417.70" y="271.80" width="96.60" height="2.00" fill="#c8c8ff"/>
<rect x="417.70" y="273.80" width="96.60" height="3.20" fill="#8888ff"/>
<rect x="417.70" y="277.00" width="96.60" height="2.60" fill="#c8c8ff"/>
<rect x="417.70" y="279.60" width="96.60" height="3.30" fill="#a8a8ff"/>
<rect x="417.70" y="282.90" width="96.60" height="1.30" fill="#d0d0ff"/>
<rect x="417.70" y="284.20" width="96.60" height="2.60" fill="#ff5858"/>
<rect x="417.70" y="286.80" width="96.60" height="2.00" fill="#ffa8a8"/>
<rect x="417.70" y="288.80" width="96.60" height="2.60" fill="#dcdcff"/>
<rect x="417.70" y="291.40" width="96.60" height="3.60" fill="#c8c8ff"/>
<rect x="417.70" y="295.00" width="96.60" height="1.30" fill="#d2d2ff"/>
<rect x="417.70" y="296.30" width="96.60" height="2.60" fill="#ffa8a8"/>
<rect x="417.70" y="298.90" width="96.60" height="2.00" fill="#c8c8ff"/>
<rect x="417.70" y="300.90" width="96.60" height="1.90" fill="#a8a8ff"/>
<rect x="417.70" y="302.80" width="96.60" height="2.60" fill="#8c8cff"/>
<rect x="417.70" y="305.40" width="96.60" height="1.30" fill="#c8c8ff"/>
<rect x="417.70" y="306.70" width="96.60" height="1.30" fill="#f0a0b0"/>
<rect x="417.70" y="308.00" width="96.60" height="3.90" fill="#b8b8ff"/>
<rect x="417.70" y="311.90" width="96.60" height="2.00" fill="#c8c8ff"/>
<rect x="417.70" y="313.90" width="96.60" height="7.10" fill="#5858ff"/>
<rect x="417.70" y="321.00" width="96.60" height="2.00" fill="#a8a8ff"/>
<rect x="417.70" y="323.00" width="96.60" height="3.20" fill="#e8e8ff"/>
<rect x="417.70" y="326.20" width="96.60" height="3.30" fill="#ffe0e0"/>
<rect x="417.70" y="329.50" width="96.60" height="2.60" fill="#fff0f0"/>
<rect x="417.70" y="332.10" width="96.60" height="1.90" fill="#ffc0c0"/>
<rect x="417.70" y="334.00" width="96.60" height="2.00" fill="#ff6060"/>
<rect x="417.70" y="336.00" width="96.60" height="1.90" fill="#ffa0a0"/>
<rect x="417.70" y="337.90" width="96.60" height="2.00" fill="#ffe1e1"/>
<rect x="417.70" y="339.90" width="96.60" height="3.20" fill="#ffb0b0"/>
<rect x="417.70" y="343.10" width="96.60" height="9.10" fill="#ff0000"/>
<rect x="417.70" y="352.20" width="96.60" height="2.00" fill="#ff6060"/>
<rect x="417.70" y="354.20" width="96.60" height="10.80" fill="#c8c8ff"/>
<rect x="417.70" y="365.00" width="96.60" height="3.30" fill="#e8e8ff"/>
<rect x="417.70" y="368.30" width="96.60" height="3.90" fill="#c8c8ff"/>
<rect x="417.70" y="372.20" width="96.60" height="3.90" fill="#a0a0ff"/>
<rect x="417.70" y="376.10" width="96.60" height="3.90" fill="#c8c8ff"/>
<rect x="417.70" y="380.00" width="96.60" height="3.20" fill="#e0e0ff"/>
<rect x="417.70" y="383.20" width="96.60" height="4.60" fill="#d0d0ff"/>
<rect x="417.70" y="387.80" width="96.60" height="1.90" fill="#ffb8b8"/>
<rect x="417.70" y="389.70" width="96.60" height="6.50" fill="#f6f6ff"/>
<rect x="417.70" y="396.20" width="96.60" height="2.00" fill="#ffb8b8"/>
<rect x="417.70" y="398.20" width="96.60" height="1.90" fill="#d2d2ff"/>
<rect x="417.70" y="400.10" width="96.60" height="7.80" fill="#a8a8ff"/>
<rect x="417.70" y="407.90" width="96.60" height="2.00" fill="#8888ff"/>
<rect x="417.70" y="409.90" width="96.60" height="1.90" fill="#d2d2ff"/>
<rect x="417.70" y="411.80" width="96.60" height="14.40" fill="#b8b8ff"/>
<rect x="417.70" y="426.20" width="96.60" height="3.80" fill="#dcdcff"/>
<rect x="417.70" y="430.00" width="96.60" height="5.00" fill="#b8b8ff"/>
<rect x="417.70" y="435.00" width="96.60" height="3.30" fill="#d0d0ff"/>
<rect x="417.70" y="438.30" width="96.60" height="4.50" fill="#ffb0b0"/>
<rect x="417.70" y="442.80" width="96.60" height="3.90" fill="#ffe8e8"/>
<rect x="417.70" y="446.70" width="96.60" height="2.60" fill="#ececff"/>
<rect x="417.70" y="449.30" width="96.60" height="5.20" fill="#d8d8ff"/>
<rect x="417.70" y="454.50" width="96.60" height="2.60" fill="#ffecec"/>
<rect x="417.70" y="457.10" width="96.60" height="5.90" fill="#c0c0ff"/>
<rect x="417.70" y="463.00" width="96.60" height="5.80" fill="#ff4848"/>
<rect x="417.70" y="468.80" width="96.60" height="5.20" fill="#ff7070"/>
<rect x="417.70" y="474.00" width="96.60" height="7.80" fill="#ff0808"/>
<rect x="417.70" y="481.80" width="96.60" height="2.60" fill="#ff6060"/>
<rect x="417.70" y="484.40" width="96.60" height="15.90" fill="#ff0000"/>
<rect x="514.30" y="85.60" width="96.60" height="1.40" fill="#d0d0ff"/>
<rect x="514.30" y="87.00" width="96.60" height="1.90" fill="#f6f6ff"/>
<rect x="514.30" y="88.90" width="96.60" height="2.60" fill="#d8d8ff"/>
<rect x="514.30" y="91.50" width="96.60" height="2.00" fill="#b8b8ff"/>
<rect x="514.30" y="93.50" width="96.60" height="3.20" fill="#c8c8ff"/>
<rect x="514.30" y="96.70" width="96.60" height="1.30" fill="#8080ff"/>
<rect x="514.30" y="98.00" width="96.60" height="1.30" fill="#c8c8ff"/>
<rect x="514.30" y="99.30" width="96.60" height="2.00" fill="#f8e0e8"/>
<rect x="514.30" y="101.30" width="96.60" height="1.30" fill="#9090ff"/>
<rect x="514.30" y="102.60" width="96.60" height="1.90" fill="#ffb8b8"/>
<rect x="514.30" y="104.50" width="96.60" height="2.00" fill="#ffe8e8"/>
<rect x="514.30" y="106.50" width="96.60" height="1.90" fill="#ffc0c0"/>
<rect x="514.30" y="108.40" width="96.60" height="3.30" fill="#ffe8e8"/>
<rect x="514.30" y="111.70" width="96.60" height="4.50" fill="#d8d8ff"/>
<rect x="514.30" y="116.20" width="96.60" height="2.00" fill="#d0d0ff"/>
<rect x="514.30" y="118.20" width="96.60" height="2.60" fill="#f6f6ff"/>
<rect x="514.30" y="120.80" width="96.60" height="1.30" fill="#ffe1e1"/>
<rect x="514.30" y="122.10" width="96.60" height="4.50" fill="#ffa8a8"/>
<rect x="514.30" y="126.60" width="96.60" height="5.20" fill="#d8d8ff"/>
<rect x="514.30" y="131.80" width="96.60" height="8.20" fill="#b8b8ff"/>
<rect x="514.30" y="140.00" width="96.60" height="3.00" fill="#a5a5ff"/>
<rect x="514.30" y="143.00" width="96.60" height="3.50" fill="#b8b8ff"/>
<rect x="514.30" y="146.50" width="96.60" height="2.50" fill="#a5a5ff"/>
<rect x="514.30" y="149.00" width="96.60" height="6.00" fill="#b8b8ff"/>
<rect x="514.30" y="155.00" width="96.60" height="16.90" fill="#b8b8ff"/>
<rect x="514.30" y="171.90" width="96.60" height="6.50" fill="#a8a8ff"/>
<rect x="514.30" y="178.40" width="96.60" height="4.60" fill="#9090ff"/>
<rect x="514.30" y="183.00" width="96.60" height="1.90" fill="#b0b0ff"/>
<rect x="514.30" y="184.90" width="96.60" height="2.00" fill="#f6f6ff"/>
<rect x="514.30" y="186.90" width="96.60" height="1.90" fill="#c8c8ff"/>
<rect x="514.30" y="188.80" width="96.60" height="2.00" fill="#a8a8ff"/>
<rect x="514.30" y="190.80" width="96.60" height="3.20" fill="#c8c8ff"/>
<rect x="514.30" y="194.00" width="96.60" height="2.50" fill="#a8a8ff"/>
<rect x="514.30" y="196.50" width="96.60" height="3.30" fill="#ff6060"/>
<rect x="514.30" y="199.80" width="96.60" height="2.60" fill="#ffd0d0"/>
<rect x="514.30" y="202.40" width="96.60" height="2.60" fill="#ff5050"/>
<rect x="514.30" y="205.00" width="96.60" height="1.90" fill="#c8c8ff"/>
<rect x="514.30" y="206.90" width="96.60" height="1.30" fill="#b0b0ff"/>
<rect x="514.30" y="208.20" width="96.60" height="1.30" fill="#f0a0b0"/>
<rect x="514.30" y="209.50" width="96.60" height="1.30" fill="#ffe1e1"/>
<rect x="514.30" y="210.80" width="96.60" height="2.60" fill="#c8c8ff"/>
<rect x="514.30" y="213.40" width="96.60" height="2.60" fill="#a8a8ff"/>
<rect x="514.30" y="216.00" width="96.60" height="3.90" fill="#c8c8ff"/>
<rect x="514.30" y="219.90" width="96.60" height="3.90" fill="#e2e2ff"/>
<rect x="514.30" y="223.80" width="96.60" height="3.30" fill="#b8b8ff"/>
<rect x="514.30" y="227.10" width="96.60" height="1.90" fill="#a4a4ff"/>
<rect x="514.30" y="229.00" width="96.60" height="1.30" fill="#c8c8ff"/>
<rect x="514.30" y="230.30" width="96.60" height="2.00" fill="#7878ff"/>
<rect x="514.30" y="232.30" width="96.60" height="1.30" fill="#c8c8ff"/>
<rect x="514.30" y="233.60" width="96.60" height="1.30" fill="#f6f6ff"/>
<rect x="514.30" y="234.90" width="96.60" height="4.50" fill="#ff4848"/>
<rect x="514.30" y="239.40" width="96.60" height="1.30" fill="#ffd0d0"/>
<rect x="514.30" y="240.70" width="96.60" height="28.50" fill="#ff0000"/>
<rect x="514.30" y="269.20" width="96.60" height="2.60" fill="#ff4040"/>
<rect x="514.30" y="271.80" width="96.60" height="4.60" fill="#ff6060"/>
<rect x="514.30" y="276.40" width="96.60" height="2.60" fill="#ffd0d0"/>
<rect x="514.30" y="279.00" width="96.60" height="5.80" fill="#ff5050"/>
<rect x="514.30" y="284.80" width="96.60" height="1.40" fill="#f6f6ff"/>
<rect x="514.30" y="286.20" width="96.60" height="4.50" fill="#ff2828"/>
<rect x="514.30" y="290.70" width="96.60" height="2.00" fill="#c8c8ff"/>
<rect x="514.30" y="292.70" width="96.60" height="2.30" fill="#c0c0ff"/>
<rect x="514.30" y="295.00" width="96.60" height="3.30" fill="#a8a8ff"/>
<rect x="514.30" y="298.30" width="96.60" height="1.90" fill="#ffe1e1"/>
<rect x="514.30" y="300.20" width="96.60" height="2.00" fill="#d0d0ff"/>
<rect x="514.30" y="302.20" width="96.60" height="1.90" fill="#9090ff"/>
<rect x="514.30" y="304.10" width="96.60" height="2.60" fill="#d0d0ff"/>
<rect x="514.30" y="306.70" width="96.60" height="4.60" fill="#a8a8ff"/>
<rect x="514.30" y="311.30" width="96.60" height="3.90" fill="#7878ff"/>
<rect x="514.30" y="315.20" width="96.60" height="1.90" fill="#c8c8ff"/>
<rect x="514.30" y="317.10" width="96.60" height="2.00" fill="#f6f6ff"/>
<rect x="514.30" y="319.10" width="96.60" height="1.90" fill="#ff9090"/>
<rect x="514.30" y="321.00" width="96.60" height="2.00" fill="#ff6060"/>
<rect x="514.30" y="323.00" width="96.60" height="3.20" fill="#ff8080"/>
<rect x="514.30" y="326.20" width="96.60" height="2.60" fill="#ffa0a0"/>
<rect x="514.30" y="328.80" width="96.60" height="3.30" fill="#ffd8d8"/>
<rect x="514.30" y="332.10" width="96.60" height="1.90" fill="#ff5050"/>
<rect x="514.30" y="334.00" width="96.60" height="4.60" fill="#ff4848"/>
<rect x="514.30" y="338.60" width="96.60" height="1.90" fill="#ffc0c0"/>
<rect x="514.30" y="340.50" width="96.60" height="2.00" fill="#ffe8e8"/>
<rect x="514.30" y="342.50" width="96.60" height="1.90" fill="#ffb0b0"/>
<rect x="514.30" y="344.40" width="96.60" height="2.00" fill="#d0d0ff"/>
<rect x="514.30" y="346.40" width="96.60" height="1.90" fill="#a0a0ff"/>
<rect x="514.30" y="348.30" width="96.60" height="3.90" fill="#ffb0b0"/>
<rect x="514.30" y="352.20" width="96.60" height="5.80" fill="#c8c8ff"/>
<rect x="514.30" y="358.00" width="96.60" height="7.00" fill="#d8d8ff"/>
<rect x="514.30" y="365.00" width="96.60" height="2.60" fill="#e4e4ff"/>
<rect x="514.30" y="367.60" width="96.60" height="2.60" fill="#ffe0e0"/>
<rect x="514.30" y="370.20" width="96.60" height="9.10" fill="#eeeeff"/>
<rect x="514.30" y="379.30" width="96.60" height="2.60" fill="#ffe0e0"/>
<rect x="514.30" y="381.90" width="96.60" height="5.90" fill="#f6f6ff"/>
<rect x="514.30" y="387.80" width="96.60" height="3.20" fill="#c8c8ff"/>
<rect x="514.30" y="391.00" width="96.60" height="7.80" fill="#a8a8ff"/>
<rect x="514.30" y="398.80" width="96.60" height="7.80" fill="#c0c0ff"/>
<rect x="514.30" y="406.60" width="96.60" height="4.60" fill="#9898ff"/>
<rect x="514.30" y="411.20" width="96.60" height="16.30" fill="#c0c0ff"/>
<rect x="514.30" y="427.50" width="96.60" height="2.50" fill="#a8a8ff"/>
<rect x="514.30" y="430.00" width="96.60" height="5.00" fill="#c8c8ff"/>
<rect x="514.30" y="435.00" width="96.60" height="5.20" fill="#c8c8ff"/>
<rect x="514.30" y="440.20" width="96.60" height="2.00" fill="#b8b8ff"/>
<rect x="514.30" y="442.20" width="96.60" height="4.50" fill="#a0a0ff"/>
<rect x="514.30" y="446.70" width="96.60" height="2.00" fill="#c8c8ff"/>
<rect x="514.30" y="448.70" width="96.60" height="3.20" fill="#f6f6ff"/>
<rect x="514.30" y="451.90" width="96.60" height="1.30" fill="#ffe8e8"/>
<rect x="514.30" y="453.20" width="96.60" height="2.60" fill="#a8a8ff"/>
<rect x="514.30" y="455.80" width="96.60" height="5.20" fill="#ffe1e1"/>
<rect x="514.30" y="461.00" width="96.60" height="2.00" fill="#ffb0b0"/>
<rect x="514.30" y="463.00" width="96.60" height="3.20" fill="#a8a8ff"/>
<rect x="514.30" y="466.20" width="96.60" height="2.60" fill="#9090ff"/>
<rect x="514.30" y="468.80" width="96.60" height="1.30" fill="#c8c8ff"/>
<rect x="514.30" y="470.10" width="96.60" height="1.30" fill="#ffe8e8"/>
<rect x="514.30" y="471.40" width="96.60" height="2.60" fill="#b8b8ff"/>
<rect x="514.30" y="474.00" width="96.60" height="2.00" fill="#ffe1e1"/>
<rect x="514.30" y="476.00" width="96.60" height="3.90" fill="#b0b0ff"/>
<rect x="514.30" y="479.90" width="96.60" height="2.60" fill="#a0a0ff"/>
<rect x="514.30" y="482.50" width="96.60" height="1.90" fill="#f08080"/>
<rect x="514.30" y="484.40" width="96.60" height="1.30" fill="#9090ff"/>
<rect x="514.30" y="485.70" width="96.60" height="3.90" fill="#c8c8ff"/>
<rect x="514.30" y="489.60" width="96.60" height="2.60" fill="#b8b8ff"/>
<rect x="514.30" y="492.20" width="96.60" height="8.10" fill="#a8a8ff"/>
<rect x="610.90" y="85.60" width="97.00" height="1.40" fill="#ff5050"/>
<rect x="610.90" y="87.00" width="97.00" height="5.80" fill="#ff1010"/>
<rect x="610.90" y="92.80" width="97.00" height="1.30" fill="#ff3c3c"/>
<rect x="610.90" y="94.10" width="97.00" height="2.60" fill="#ffc0c0"/>
<rect x="610.90" y="96.70" width="97.00" height="2.00" fill="#ffd8d8"/>
<rect x="610.90" y="98.70" width="97.00" height="1.30" fill="#ff9090"/>
<rect x="610.90" y="100.00" width="97.00" height="3.20" fill="#d8d8ff"/>
<rect x="610.90" y="103.20" width="97.00" height="1.30" fill="#c8c8ff"/>
<rect x="610.90" y="104.50" width="97.00" height="5.90" fill="#a8a8ff"/>
<rect x="610.90" y="110.40" width="97.00" height="1.90" fill="#d0d0ff"/>
<rect x="610.90" y="112.30" width="97.00" height="9.10" fill="#c0c0ff"/>
<rect x="610.90" y="121.40" width="97.00" height="2.00" fill="#9090ff"/>
<rect x="610.90" y="123.40" width="97.00" height="4.50" fill="#ff2020"/>
<rect x="610.90" y="127.90" width="97.00" height="2.00" fill="#ff5050"/>
<rect x="610.90" y="129.90" width="97.00" height="46.60" fill="#ff0000"/>
<rect x="610.90" y="176.50" width="97.00" height="7.10" fill="#ff1818"/>
<rect x="610.90" y="183.60" width="97.00" height="2.00" fill="#ff6060"/>
<rect x="610.90" y="185.60" width="97.00" height="1.30" fill="#f6f6ff"/>
<rect x="610.90" y="186.90" width="97.00" height="2.60" fill="#ffa0a0"/>
<rect x="610.90" y="189.50" width="97.00" height="1.90" fill="#ff7070"/>
<rect x="610.90" y="191.40" width="97.00" height="2.00" fill="#ffe1e1"/>
<rect x="610.90" y="193.40" width="97.00" height="1.90" fill="#ffa8a8"/>
<rect x="610.90" y="195.30" width="97.00" height="2.70" fill="#ffd0d0"/>
<rect x="610.90" y="198.00" width="97.00" height="1.10" fill="#ffb0b0"/>
<rect x="610.90" y="199.10" width="97.00" height="2.00" fill="#e8c8e0"/>
<rect x="610.90" y="201.10" width="97.00" height="1.90" fill="#a8a8ff"/>
<rect x="610.90" y="203.00" width="97.00" height="2.60" fill="#9090ff"/>
<rect x="610.90" y="205.60" width="97.00" height="2.00" fill="#ff8080"/>
<rect x="610.90" y="207.60" width="97.00" height="1.90" fill="#d0d0ff"/>
<rect x="610.90" y="209.50" width="97.00" height="2.00" fill="#b8b8ff"/>
<rect x="610.90" y="211.50" width="97.00" height="8.40" fill="#c8c8ff"/>
<rect x="610.90" y="219.90" width="97.00" height="2.60" fill="#e4e4ff"/>
<rect x="610.90" y="222.50" width="97.00" height="2.60" fill="#b8b8ff"/>
<rect x="610.90" y="225.10" width="97.00" height="2.60" fill="#c8c8ff"/>
<rect x="610.90" y="227.70" width="97.00" height="2.60" fill="#a8a8ff"/>
<rect x="610.90" y="230.30" width="97.00" height="1.30" fill="#c8c8ff"/>
<rect x="610.90" y="231.60" width="97.00" height="2.00" fill="#d2d2ff"/>
<rect x="610.90" y="233.60" width="97.00" height="1.90" fill="#8080ff"/>
<rect x="610.90" y="235.50" width="97.00" height="2.00" fill="#c8c8ff"/>
<rect x="610.90" y="237.50" width="97.00" height="1.90" fill="#a0a0ff"/>
<rect x="610.90" y="239.40" width="97.00" height="2.00" fill="#f8d8e8"/>
<rect x="610.90" y="241.40" width="97.00" height="1.90" fill="#d2d2ff"/>
<rect x="610.90" y="243.30" width="97.00" height="2.00" fill="#ffb0b0"/>
<rect x="610.90" y="245.30" width="97.00" height="1.90" fill="#ffebeb"/>
<rect x="610.90" y="247.20" width="97.00" height="2.60" fill="#c8c8ff"/>
<rect x="610.90" y="249.80" width="97.00" height="1.30" fill="#f6f6ff"/>
<rect x="610.90" y="251.10" width="97.00" height="7.70" fill="#c8c8ff"/>
<rect x="610.90" y="258.80" width="97.00" height="3.80" fill="#c8c8ff"/>
<rect x="610.90" y="262.60" width="97.00" height="2.60" fill="#e8e8ff"/>
<rect x="610.90" y="265.20" width="97.00" height="2.00" fill="#b8b8ff"/>
<rect x="610.90" y="267.20" width="97.00" height="3.20" fill="#fff0f8"/>
<rect x="610.90" y="270.40" width="97.00" height="2.00" fill="#d0d0ff"/>
<rect x="610.90" y="272.40" width="97.00" height="1.90" fill="#ffb0b0"/>
<rect x="610.90" y="274.30" width="97.00" height="1.30" fill="#ffe1e1"/>
<rect x="610.90" y="275.60" width="97.00" height="3.30" fill="#ff3030"/>
<rect x="610.90" y="278.90" width="97.00" height="1.30" fill="#ffe1e1"/>
<rect x="610.90" y="280.20" width="97.00" height="3.20" fill="#ff4848"/>
<rect x="610.90" y="283.40" width="97.00" height="1.30" fill="#d0d0ff"/>
<rect x="610.90" y="284.70" width="97.00" height="2.60" fill="#a8a8ff"/>
<rect x="610.90" y="287.30" width="97.00" height="1.30" fill="#c8c8ff"/>
<rect x="610.90" y="288.60" width="97.00" height="2.00" fill="#7878ff"/>
<rect x="610.90" y="290.60" width="97.00" height="3.90" fill="#c0c0ff"/>
<rect x="610.90" y="294.50" width="97.00" height="1.90" fill="#b8b8ff"/>
<rect x="610.90" y="296.40" width="97.00" height="2.60" fill="#c8c8ff"/>
<rect x="610.90" y="299.00" width="97.00" height="3.30" fill="#a8a8ff"/>
<rect x="610.90" y="302.30" width="97.00" height="1.90" fill="#f0a0a8"/>
<rect x="610.90" y="304.20" width="97.00" height="2.00" fill="#8888ff"/>
<rect x="610.90" y="306.20" width="97.00" height="2.60" fill="#a8a8ff"/>
<rect x="610.90" y="308.80" width="97.00" height="3.20" fill="#ff5050"/>
<rect x="610.90" y="312.00" width="97.00" height="2.60" fill="#ff9090"/>
<rect x="610.90" y="314.60" width="97.00" height="3.30" fill="#ff5050"/>
<rect x="610.90" y="317.90" width="97.00" height="2.00" fill="#ffe1e1"/>
<rect x="610.90" y="319.90" width="97.00" height="1.90" fill="#9090ff"/>
<rect x="610.90" y="321.80" width="97.00" height="2.00" fill="#f6f6ff"/>
<rect x="610.90" y="323.80" width="97.00" height="8.90" fill="#ff2020"/>
<rect x="610.90" y="332.70" width="97.00" height="2.00" fill="#ffb0b0"/>
<rect x="610.90" y="334.70" width="97.00" height="3.20" fill="#ff6060"/>
<rect x="610.90" y="337.90" width="97.00" height="2.00" fill="#ffc0c0"/>
<rect x="610.90" y="339.90" width="97.00" height="3.20" fill="#ff5050"/>
<rect x="610.90" y="343.10" width="97.00" height="2.00" fill="#c8c8ff"/>
<rect x="610.90" y="345.10" width="97.00" height="3.20" fill="#f6f6ff"/>
<rect x="610.90" y="348.30" width="97.00" height="2.60" fill="#ffa0a0"/>
<rect x="610.90" y="350.90" width="97.00" height="2.60" fill="#ffd8d8"/>
<rect x="610.90" y="353.50" width="97.00" height="81.50" fill="#ff0000"/>
<rect x="610.90" y="435.00" width="97.00" height="15.60" fill="#ff0808"/>
<rect x="610.90" y="450.60" width="97.00" height="5.20" fill="#ff1818"/>
<rect x="610.90" y="455.80" width="97.00" height="5.20" fill="#ff1010"/>
<rect x="610.90" y="461.00" width="97.00" height="2.40" fill="#ff1010"/>
<rect x="610.90" y="463.40" width="97.00" height="2.60" fill="#ff5050"/>
<rect x="610.90" y="466.00" width="97.00" height="2.00" fill="#ff9090"/>
<rect x="610.90" y="468.00" width="97.00" height="3.20" fill="#ff5050"/>
<rect x="610.90" y="471.20" width="97.00" height="1.30" fill="#ffe1e1"/>
<rect x="610.90" y="472.50" width="97.00" height="2.00" fill="#a8a8ff"/>
<rect x="610.90" y="474.50" width="97.00" height="1.90" fill="#d0d0ff"/>
<rect x="610.90" y="476.40" width="97.00" height="2.60" fill="#9898ff"/>
<rect x="610.90" y="479.00" width="97.00" height="2.00" fill="#d0d0ff"/>
<rect x="610.90" y="481.00" width="97.00" height="1.30" fill="#ff8080"/>
<rect x="610.90" y="482.30" width="97.00" height="2.60" fill="#b8b8ff"/>
<rect x="610.90" y="484.90" width="97.00" height="1.90" fill="#d0d0ff"/>
<rect x="610.90" y="486.80" width="97.00" height="2.60" fill="#b0b0ff"/>
<rect x="610.90" y="489.40" width="97.00" height="2.60" fill="#c8c8ff"/>
<rect x="610.90" y="492.00" width="97.00" height="2.00" fill="#e8e8ff"/>
<rect x="610.90" y="494.00" width="97.00" height="1.90" fill="#ffe0d8"/>
<rect x="610.90" y="495.90" width="97.00" height="2.00" fill="#9898ff"/>
<rect x="610.90" y="497.90" width="97.00" height="2.40" fill="#c8c8ff"/>
</g>
<path d="M175.65 83.50L175.65 39.80 M175.65 39.80L272.55 39.80 M272.55 39.80L272.55 83.50 M224.10 39.80L224.10 36.30 M224.10 36.30L369.45 36.30 M369.45 36.30L369.45 83.50 M466.35 83.50L466.35 32.20 M466.35 32.20L563.25 32.20 M563.25 32.20L563.25 83.50 M296.78 36.30L296.78 29.00 M296.78 29.00L514.80 29.00 M514.80 29.00L514.80 32.20 M405.79 29.00L405.79 1.50 M405.79 1.50L660.15 1.50 M660.15 1.50L660.15 83.50" stroke="#3a3a3a" stroke-width="1" fill="none"/>
<text transform="translate(176.0 512) rotate(-90)" text-anchor="end" font-size="9.5" fill="#333">DIG.F</text>
<text transform="translate(273.2 512) rotate(-90)" text-anchor="end" font-size="9.5" fill="#333">FB</text>
<text transform="translate(370.1 512) rotate(-90)" text-anchor="end" font-size="9.5" fill="#333">EMB</text>
<text transform="translate(466.8 512) rotate(-90)" text-anchor="end" font-size="9.5" fill="#333">DIG.P</text>
<text transform="translate(563.4 512) rotate(-90)" text-anchor="end" font-size="9.5" fill="#333">SG</text>
<text transform="translate(660.2 512) rotate(-90)" text-anchor="end" font-size="9.5" fill="#333">OV</text>
<path d="M2.1 108.7V485.3 M2.1 108.7H10.6 M10.6 99.0V118.4 M10.6 99.0H13.8 M13.8 95.5V102.5 M13.8 95.5H30.9 M30.9 92.8V98.1 M30.9 92.8H35.3 M35.3 89.3V95.5 M35.3 89.3H51.1 M51.1 86.6V91.9 M51.1 86.6H104.0 M51.1 91.9H83.0 M35.3 95.5H50.2 M30.9 98.1H50.2 M50.2 94.6V100.7 M50.2 94.6H83.0 M50.2 100.7H78.0 M13.8 102.5H78.0 M10.6 118.4H22.6 M22.6 114.0V122.8 M22.6 114.0H45.0 M45.0 106.9V121.0 M45.0 106.9H50.2 M50.2 104.8V108.7 M50.2 104.8H98.7 M50.2 108.7H60.8 M60.8 107.0V111.3 M60.8 107.0H100.0 M60.8 111.3H100.0 M45.0 121.0H88.0 M22.6 122.8H88.0 M43.2 127.2H95.0 M43.2 127.2V179.0 M25.6 153.0H43.2 M25.6 153.0V189.7 M43.2 179.0H56.4 M56.4 173.0V182.6 M56.4 173.0H63.5 M63.5 165.0V180.9 M63.5 165.0H70.5 M70.5 151.8V176.4 M70.5 151.8H81.1 M81.1 145.0V158.0 M81.1 145.0H88.0 M88.0 141.3V148.0 M88.0 141.3H100.5 M100.5 139.0V144.0 M100.5 139.0H118.0 M100.5 144.0H116.0 M88.0 148.0H106.0 M106.0 146.0V150.0 M81.1 158.0H92.6 M92.6 153.0V162.0 M92.6 153.0H116.0 M92.6 162.0H98.7 M98.7 160.0V169.0 M98.7 160.0H116.0 M98.7 169.0H102.3 M102.3 166.0V173.0 M102.3 166.0H118.0 M102.3 173.0H106.7 M106.7 170.0V175.0 M106.7 170.0H118.0 M106.7 175.0H116.0 M70.5 176.4H102.3 M63.5 180.9H98.0 M56.4 182.6H96.0 M25.6 189.7H40.6 M40.6 187.0V191.4 M40.6 187.0H58.0 M40.6 191.4H58.2 M58.2 189.7V193.2 M58.2 189.7H73.0 M58.2 193.2H73.0 M8.8 171.2V201.1 M8.8 171.2H25.6 M8.8 201.1H27.3 M27.3 199.4V202.9 M27.3 199.4H58.0 M27.3 202.9H64.0 M5.3 186.1V208.2 M5.3 186.1H8.8 M2.1 197.0H5.3 M5.3 208.2H18.5 M18.5 206.4V212.0 M18.5 206.4H32.6 M32.6 205.0V208.0 M32.6 205.0H64.0 M32.6 208.0H64.0 M18.5 212.0H48.5 M48.5 209.0V215.2 M48.5 209.0H64.0 M48.5 215.2H60.0 M60.0 211.7V217.9 M60.0 211.7H107.5 M60.0 217.9H100.0 M3.9 207.0V231.9 M2.1 207.0H3.9 M3.9 231.9H15.5 M15.5 230.1V233.6 M15.5 230.1H72.3 M15.5 233.6H75.8 M6.2 254.0V286.0 M6.2 254.0H17.6 M17.6 238.0V268.9 M17.6 238.0H85.0 M17.6 268.9H20.8 M20.8 263.6V274.2 M20.8 263.6H31.7 M31.7 256.6V272.4 M31.7 256.6H44.1 M44.1 246.0V268.0 M44.1 246.0H56.4 M56.4 243.3V248.6 M56.4 243.3H98.0 M56.4 248.6H98.0 M70.0 241.0V246.0 M70.0 241.0H98.0 M44.1 268.0H63.5 M63.5 264.5V269.8 M63.5 264.5H101.0 M63.5 269.8H72.0 M31.7 272.4H72.0 M20.8 274.2H72.0 M2.1 270.7H6.2 M24.7 284.8H44.0 M6.2 285.5H24.7 M24.7 284.6V288.2 M24.7 288.2H86.0 M2.1 309.3H6.7 M6.7 306.7V312.9 M6.7 306.7H12.3 M12.3 304.0V310.2 M12.3 304.0H25.6 M25.6 299.6V306.7 M25.6 299.6H37.9 M37.9 298.0V302.3 M37.9 298.0H97.0 M37.9 302.3H77.0 M25.6 306.7H46.0 M12.3 310.2H52.0 M6.7 312.9H21.2 M21.2 311.0V314.5 M21.2 311.0H77.0 M21.2 314.5H77.0 M2.1 322.5H10.6 M10.6 320.0V324.3 M10.6 320.0H18.5 M18.5 318.0V321.6 M18.5 318.0H70.0 M18.5 321.6H42.0 M10.6 324.3H42.0 M8.8 343.7H26.4 M8.8 343.7V457.2 M26.4 336.7V349.0 M26.4 336.7H37.0 M37.0 333.1V340.2 M37.0 333.1H46.7 M46.7 328.7V335.8 M46.7 328.7H102.0 M46.7 335.8H81.0 M37.0 340.2H81.0 M26.4 349.0H85.0 M5.3 400.0V476.6 M5.3 400.0H8.8 M2.1 438.0H5.3 M48.5 406.0V455.4 M48.5 406.0H54.7 M54.7 388.6V424.6 M54.7 424.6H57.3 M57.3 406.0V442.2 M54.7 388.6H66.1 M66.1 378.9V399.0 M66.1 378.9H71.4 M71.4 371.0V385.9 M71.4 371.0H85.5 M85.5 366.7V377.0 M85.5 366.7H89.3 M89.3 365.0V368.4 M89.3 365.0H96.0 M96.0 361.7V366.7 M96.0 361.7H101.8 M101.8 359.2V364.2 M101.8 359.2H105.2 M105.2 356.7V361.0 M105.2 356.7H110.2 M110.2 355.0V358.4 M110.2 355.0H116.0 M110.2 358.4H115.0 M105.2 361.0H114.0 M101.8 364.2H112.0 M96.0 366.7H108.0 M89.3 368.4H106.0 M85.5 377.0H95.2 M95.2 374.4V380.6 M95.2 374.4H110.0 M95.2 380.6H108.0 M71.4 385.9H75.0 M75.0 381.5V390.0 M75.0 381.5H86.4 M86.4 378.5V384.5 M86.4 378.5H112.0 M86.4 384.5H110.0 M75.0 390.0H82.9 M82.9 386.0V395.6 M82.9 386.0H108.0 M82.9 395.6H93.0 M93.0 392.0V398.0 M93.0 392.0H112.0 M93.0 398.0H110.0 M66.1 399.0H83.0 M57.3 406.2H68.2 M68.2 400.8V411.6 M68.2 400.8H97.6 M68.2 411.6H82.0 M82.0 408.5V415.2 M81.5 408.5H84.5 M84.5 407.2V409.7 M84.5 407.2H90.4 M90.4 405.0V408.0 M90.4 405.0H100.5 M100.5 403.4V406.5 M100.5 403.4H104.8 M104.8 401.5V404.5 M104.8 401.5H117.0 M104.8 404.5H115.0 M100.5 406.5H112.0 M90.4 408.0H110.0 M84.5 409.7H94.6 M81.5 415.2H91.6 M91.6 411.4V419.5 M91.6 411.4H110.0 M91.6 419.5H97.1 M97.1 413.0V426.6 M97.1 413.0H115.0 M97.1 426.6H99.7 M99.7 422.8V430.0 M99.7 422.8H105.6 M105.6 420.3V425.4 M105.6 420.3H109.0 M109.0 417.8V422.8 M109.0 417.8H118.0 M109.0 422.8H116.0 M105.6 425.4H114.0 M99.7 430.0H105.6 M105.6 427.9V433.8 M105.6 427.9H109.0 M109.0 426.6V429.5 M109.0 426.6H117.0 M109.0 429.5H116.0 M105.6 433.8H116.0 M57.3 442.2H71.4 M71.4 439.6V444.8 M71.4 439.6H95.0 M71.4 444.8H98.7 M48.5 455.4H62.6 M62.6 451.9V458.0 M62.6 451.9H98.0 M62.6 458.0H98.0 M5.3 476.6H17.6 M17.6 474.0V479.2 M17.6 474.0H31.7 M31.7 472.0V476.0 M31.7 472.0H70.0 M31.7 476.0H95.0 M17.6 479.2H40.6 M8.8 457.2H23.8 M23.8 447.5V466.9 M23.8 447.5H42.3 M42.3 430.7V462.5 M42.3 430.7H48.5 M42.3 462.5H53.0 M23.8 466.9H34.4 M34.4 465.3V468.5 M34.4 465.3H74.0 M34.4 468.5H77.6 M2.1 485.3H19.4 M19.4 482.6V487.9 M19.4 482.6H41.4 M19.4 487.9H36.1 M36.1 484.4V494.0 M36.1 484.4H56.4 M36.1 494.0H56.4 M56.4 490.6V497.6 M56.4 490.6H61.7 M61.7 488.0V493.2 M61.7 488.0H116.0 M61.7 493.2H104.0 M56.4 497.6H74.0" stroke="#222" stroke-width="1" fill="none"/>
<path d="M64.0 86.9H91.6 M69.0 88.2H91.6 M68.0 89.3H90.0 M72.0 90.6H90.0 M62.0 91.7H76.0 M64.5 93.0H76.0 M62.0 94.1H84.0 M66.0 95.4H84.0 M66.0 95.9H82.0 M67.0 97.7H78.0 M67.0 99.5H77.0 M68.8 100.8H77.0 M67.0 104.3H79.6 M69.3 105.6H79.6 M80.0 110.3H96.0 M82.9 111.6H96.0 M92.0 113.3H114.0 M96.0 114.6H114.0 M99.9 115.9H114.0 M92.0 117.2H114.0 M96.0 118.5H114.0 M80.0 119.3H88.0 M68.0 124.1H91.6 M72.2 125.4H91.6 M68.0 125.9H79.6 M70.1 127.2H79.6 M80.0 128.3H96.0 M76.0 130.1H88.0 M76.0 181.2H91.6 M78.8 182.5H91.6 M81.6 183.8H91.6 M57.0 184.5H74.8 M45.0 185.9H58.0 M47.3 187.2H58.0 M73.0 188.1H88.0 M75.7 189.4H88.0 M68.0 192.3H76.0 M69.4 193.6H76.0 M70.9 194.9H76.0 M50.0 197.7H64.0 M52.5 199.0H64.0 M47.0 200.1H64.0 M50.1 201.4H64.0 M47.0 202.5H73.6 M51.8 203.8H73.6 M56.6 205.1H73.6 M55.0 208.5H68.8 M57.5 209.8H68.8 M75.0 211.5H83.5 M88.0 220.7H102.0 M90.5 222.0H102.0 M93.0 223.3H102.0 M88.0 224.6H102.0 M50.0 230.1H73.6 M55.0 231.9H76.0 M58.8 233.2H76.0 M62.6 234.5H76.0 M55.0 235.8H76.0 M50.0 236.5H79.6 M55.3 237.8H79.6 M60.7 239.1H79.6 M70.0 240.1H93.0 M74.1 241.4H93.0 M78.3 242.7H93.0 M70.0 244.0H93.0 M74.1 245.3H93.0 M78.3 246.6H93.0 M70.0 247.9H93.0 M74.1 249.2H93.0 M78.3 250.5H93.0 M70.0 251.8H93.0 M80.0 262.9H103.0 M84.1 264.2H103.0 M88.3 265.5H103.0 M80.0 266.8H103.0 M84.1 268.1H103.0 M88.3 269.4H103.0 M80.0 270.7H103.0 M60.0 273.7H80.8 M63.7 275.0H80.8 M67.5 276.3H80.8 M60.0 277.3H93.0 M65.9 278.6H93.0 M71.9 279.9H93.0 M60.0 281.2H93.0 M65.9 282.5H93.0 M71.9 283.8H93.0 M40.0 284.5H59.0 M44.0 286.3H78.4 M50.2 287.6H78.4 M56.4 288.9H78.4 M60.0 294.7H95.0 M60.0 296.5H96.4 M66.6 297.8H96.4 M73.1 299.1H96.4 M55.0 300.1H78.4 M59.2 301.4H78.4 M63.4 302.7H78.4 M55.0 303.7H71.0 M57.9 305.0H71.0 M45.0 306.7H58.0 M48.0 311.5H79.6 M53.7 312.8H79.6 M48.0 314.5H73.6 M52.6 315.8H73.6 M57.2 317.1H73.6 M42.0 318.1H66.4 M46.4 319.4H66.4 M50.0 324.1H76.0 M85.0 325.9H102.0 M75.0 327.7H100.0 M79.5 329.0H100.0 M84.0 330.3H100.0 M70.0 331.3H96.4 M74.8 332.6H96.4 M79.5 333.9H96.4 M68.0 334.5H86.8 M71.4 335.8H86.8 M57.0 336.9H79.6 M61.1 338.2H79.6 M65.1 339.5H79.6 M57.0 340.8H79.6 M66.0 341.7H84.4 M69.3 343.0H84.4 M72.6 344.3H84.4 M52.0 345.3H86.8 M58.3 346.6H86.8 M64.5 347.9H86.8 M52.0 349.2H86.8 M58.3 350.5H86.8 M64.5 351.8H86.8 M52.0 353.1H86.8 M92.0 380.1H106.0 M94.5 381.4H106.0 M97.0 382.7H106.0 M71.0 437.5H92.8 M74.9 438.8H92.8 M78.8 440.1H92.8 M71.0 441.4H92.8 M74.9 442.7H92.8 M69.0 450.1H95.0 M73.7 451.4H95.0 M78.4 452.7H95.0 M69.0 454.0H95.0 M42.0 461.5H52.0 M43.8 462.8H52.0 M40.0 463.9H83.0 M47.7 465.2H83.0 M55.5 466.5H83.0 M45.0 467.5H79.6 M51.2 468.8H79.6 M40.0 470.5H74.8 M46.3 471.8H74.8 M32.0 472.7H71.8 M39.2 474.0H71.8 M46.3 475.3H71.8 M35.0 479.4H63.0 M40.0 480.7H63.0 M20.0 482.3H40.0 M23.6 483.6H40.0 M80.0 486.1H103.0 M84.1 487.4H103.0 M88.3 488.7H103.0 M80.0 489.8H94.0 M82.5 491.1H94.0 M90.0 492.7H103.0 M92.3 494.0H103.0 M94.7 495.3H103.0 M56.0 496.4H74.8 M59.4 497.7H74.8" stroke="#444" stroke-width="0.95" fill="none"/>
<path d="M122.9 85.4 L103.5 85.4 L103.5 86.4 L91.6 86.4 L91.6 88.8 L90.0 88.8 L90.0 91.2 L76.0 91.2 L76.0 93.6 L84.0 93.6 L84.0 95.4 L82.0 95.4 L82.0 97.2 L78.0 97.2 L78.0 99.0 L77.0 99.0 L77.0 102.0 L52.0 102.0 L52.0 103.8 L79.6 103.8 L79.6 106.2 L92.8 106.2 L92.8 108.0 L101.0 108.0 L101.0 109.8 L96.0 109.8 L96.0 112.8 L114.0 112.8 L114.0 118.8 L88.0 118.8 L88.0 120.6 L59.0 120.6 L59.0 123.6 L91.6 123.6 L91.6 125.4 L79.6 125.4 L79.6 127.8 L96.0 127.8 L96.0 129.6 L88.0 129.6 L88.0 131.4 L118.0 131.4 L118.0 133.5 L114.0 133.5 L114.0 135.5 L110.0 135.5 L110.0 147.3 L95.0 147.3 L95.0 150.6 L111.0 150.6 L111.0 154.0 L115.0 154.0 L115.0 158.4 L119.0 158.4 L119.0 174.0 L108.0 174.0 L108.0 177.4 L100.0 177.4 L100.0 180.7 L91.6 180.7 L91.6 184.0 L74.8 184.0 L74.8 185.4 L58.0 185.4 L58.0 187.6 L88.0 187.6 L88.0 190.0 L74.8 190.0 L74.8 191.8 L76.0 191.8 L76.0 195.4 L71.0 195.4 L71.0 197.2 L64.0 197.2 L64.0 199.6 L64.0 199.6 L64.0 202.0 L73.6 202.0 L73.6 206.2 L59.0 206.2 L59.0 208.0 L68.8 208.0 L68.8 211.0 L83.5 211.0 L83.5 212.6 L120.0 212.6 L120.0 216.0 L98.0 216.0 L98.0 220.2 L102.0 220.2 L102.0 225.2 L76.0 225.2 L76.0 227.2 L92.8 227.2 L92.8 229.6 L73.6 229.6 L73.6 231.4 L76.0 231.4 L76.0 236.0 L79.6 236.0 L79.6 239.6 L93.0 239.6 L93.0 252.8 L120.0 252.8 L120.0 255.2 L116.0 255.2 L116.0 258.0 L110.0 258.0 L110.0 262.4 L103.0 262.4 L103.0 270.8 L67.6 270.8 L67.6 273.2 L80.8 273.2 L80.8 276.8 L93.0 276.8 L93.0 284.0 L59.0 284.0 L59.0 285.8 L78.4 285.8 L78.4 289.4 L71.0 289.4 L71.0 291.2 L114.0 291.2 L114.0 294.2 L95.0 294.2 L95.0 296.0 L96.4 296.0 L96.4 299.6 L78.4 299.6 L78.4 303.2 L71.0 303.2 L71.0 306.2 L58.0 306.2 L58.0 308.0 L45.0 308.0 L45.0 311.0 L79.6 311.0 L79.6 314.0 L73.6 314.0 L73.6 317.6 L66.4 317.6 L66.4 320.0 L42.0 320.0 L42.0 323.6 L76.0 323.6 L76.0 325.4 L102.0 325.4 L102.0 327.2 L100.0 327.2 L100.0 330.8 L96.4 330.8 L96.4 334.0 L86.8 334.0 L86.8 336.4 L79.6 336.4 L79.6 341.2 L84.4 341.2 L84.4 344.8 L86.8 344.8 L86.8 353.8 L116.7 353.8 L116.7 355.0 L116.0 355.0 L116.0 359.2 L116.0 359.2 L116.0 365.2 L114.0 365.2 L114.0 370.0 L113.0 370.0 L113.0 374.8 L114.0 374.8 L114.0 379.6 L106.0 379.6 L106.0 384.0 L108.0 384.0 L108.0 387.6 L112.0 387.6 L112.0 390.0 L107.0 390.0 L107.0 396.0 L112.0 396.0 L112.0 398.4 L83.0 398.4 L83.0 400.2 L91.2 400.2 L91.2 401.3 L114.0 401.3 L114.0 408.0 L94.6 408.0 L94.6 411.0 L114.0 411.0 L114.0 424.5 L109.0 424.5 L109.0 428.8 L114.0 428.8 L114.0 437.0 L92.8 437.0 L92.8 443.0 L95.0 443.0 L95.0 447.2 L102.0 447.2 L102.0 449.6 L95.0 449.6 L95.0 454.4 L95.0 454.4 L95.0 457.4 L97.6 457.4 L97.6 461.0 L52.0 461.0 L52.0 463.4 L83.0 463.4 L83.0 467.0 L79.6 467.0 L79.6 470.0 L74.8 470.0 L74.8 472.2 L71.8 472.2 L71.8 475.9 L88.0 475.9 L88.0 478.9 L63.0 478.9 L63.0 481.8 L40.0 481.8 L40.0 484.0 L114.8 484.0 L114.8 485.6 L103.0 485.6 L103.0 489.3 L94.0 489.3 L94.0 492.2 L103.0 492.2 L103.0 495.9 L74.8 495.9 L74.8 498.1 L85.0 498.1 L85.0 500.4 L122.9 500.4 Z" fill="#000"/>
</svg>
</body></html>
